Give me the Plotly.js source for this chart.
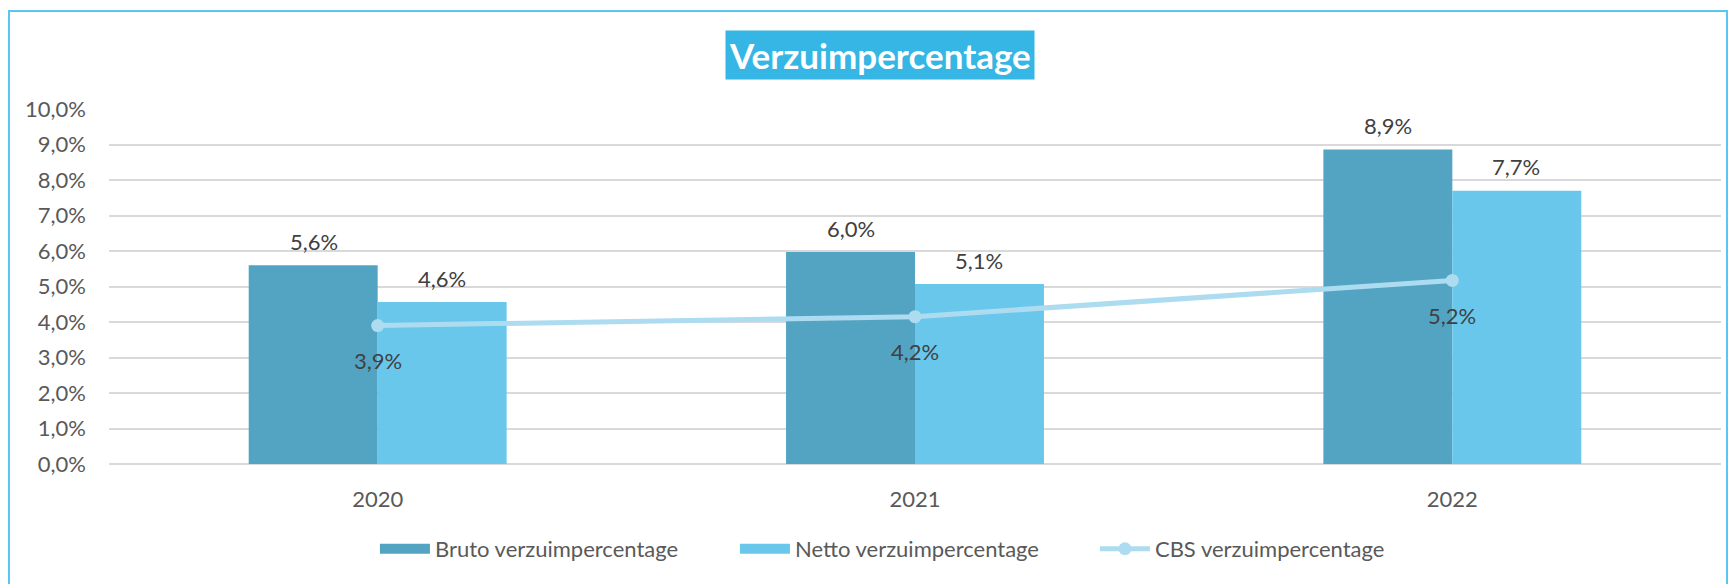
<!DOCTYPE html>
<html>
<head>
<meta charset="utf-8">
<script src="https://cdn.plot.ly/plotly-3.0.1.min.js"></script>
<style>
  html, body { margin: 0; padding: 0; background: #ffffff; }
  #wrap { position: relative; width: 1731px; height: 584px; overflow: hidden; }
  #chart { position: absolute; left: 0; top: 0; width: 1731px; height: 584px; }
  #frame { position: absolute; left: 8px; top: 10px; width: 1716px; height: 600px;
           border: 2px solid #5BC6EF; pointer-events: none; }
</style>
</head>
<body>
<div id="wrap">
  <div id="chart"></div>
  <div id="frame"></div>
</div>
<script>
// ---- data ----
const years = ['2020', '2021', '2022'];
const bruto = [5.6, 5.97, 8.86];
const netto = [4.56, 5.07, 7.7];
const cbs = [3.9, 4.15, 5.17];
const seriesNames = ['Bruto verzuimpercentage', 'Netto verzuimpercentage', 'CBS verzuimpercentage'];
const titleText = 'Verzuimpercentage';

const FONT = 'Lato, "Open Sans", sans-serif';
const C_BRUTO = '#53A4C2', C_NETTO = '#68C7EB', C_CBS = '#ADDCF1';
const fmt = v => (Math.round(v * 10) / 10).toFixed(1).replace('.', ',') + '%';

const traces = [
  { type: 'bar', name: seriesNames[0], x: years, y: bruto, showlegend: false,
    marker: { color: C_BRUTO }, hoverinfo: 'skip' },
  { type: 'bar', name: seriesNames[1], x: years, y: netto, showlegend: false,
    marker: { color: C_NETTO }, hoverinfo: 'skip' },
  { type: 'scatter', mode: 'lines+markers', name: seriesNames[2], x: years, y: cbs, showlegend: false,
    line: { color: C_CBS, width: 5 },
    marker: { color: C_CBS, size: 13 }, hoverinfo: 'skip' },
  // legend entries (legend-only swatches)
  { type: 'scatter', mode: 'lines', name: seriesNames[0], x: [null], y: [null],
    line: { color: C_BRUTO, width: 14 }, hoverinfo: 'skip' },
  { type: 'scatter', mode: 'lines', name: seriesNames[1], x: [null], y: [null],
    line: { color: C_NETTO, width: 14 }, hoverinfo: 'skip' },
  { type: 'scatter', mode: 'lines+markers', name: seriesNames[2], x: [null], y: [null],
    line: { color: C_CBS, width: 5 }, marker: { color: C_CBS, size: 13 }, hoverinfo: 'skip' }
];

const labelFont = { family: FONT, size: 22, color: '#404040' };
const annotations = [];
years.forEach((yr, i) => {
  annotations.push({ x: i, y: bruto[i], xref: 'x', yref: 'y', text: fmt(bruto[i]),
    showarrow: false, xshift: -64, yshift: 24, font: labelFont });
  annotations.push({ x: i, y: netto[i], xref: 'x', yref: 'y', text: fmt(netto[i]),
    showarrow: false, xshift: 64, yshift: 24, font: labelFont });
  annotations.push({ x: i, y: cbs[i], xref: 'x', yref: 'y', text: fmt(cbs[i]),
    showarrow: false, yshift: -35, font: labelFont });
});
annotations.push({
  text: '<b>' + titleText + '</b>', xref: 'paper', yref: 'paper',
  x: 0.478, y: 1.1535, xanchor: 'center', yanchor: 'middle', showarrow: false,
  bgcolor: '#35B6E4', borderpad: 3,
  font: { family: FONT, size: 35, color: '#ffffff' }
});

const layout = {
  width: 1731, height: 584,
  margin: { l: 109, r: 10, t: 109, b: 120 },
  paper_bgcolor: 'rgba(0,0,0,0)', plot_bgcolor: 'rgba(0,0,0,0)',
  separators: ',.',
  font: { family: FONT, size: 22, color: '#595959' },
  barmode: 'group', bargap: 0.52, bargroupgap: 0,
  showlegend: true,
  legend: {
    orientation: 'h', xref: 'container', yref: 'container',
    x: 0.2166, y: 0.06, xanchor: 'left', yanchor: 'middle',
    itemwidth: 50,
    entrywidth: 295, entrywidthmode: 'pixels',
    font: { family: FONT, size: 22, color: '#595959' },
    traceorder: 'normal'
  },
  xaxis: {
    type: 'category', range: [-0.5, 2.5], autorange: false,
    showgrid: false, zeroline: false, showline: false,
    ticks: '', ticklabelstandoff: 20,
    tickfont: { family: FONT, size: 22, color: '#595959' }
  },
  yaxis: {
    range: [0, 10], autorange: false, dtick: 1, tick0: 0, tickformat: '.1f', ticksuffix: '%',
    showgrid: true, gridcolor: '#D9D9D9', gridwidth: 2,
    zeroline: true, zerolinecolor: '#D9D9D9', zerolinewidth: 2,
    showline: false, ticks: '', ticklabelstandoff: 22,
    tickfont: { family: FONT, size: 22, color: '#595959' }
  },
  annotations: annotations
};

Plotly.newPlot('chart', traces, layout, { displayModeBar: false, staticPlot: true });
</script>
</body>
</html>
